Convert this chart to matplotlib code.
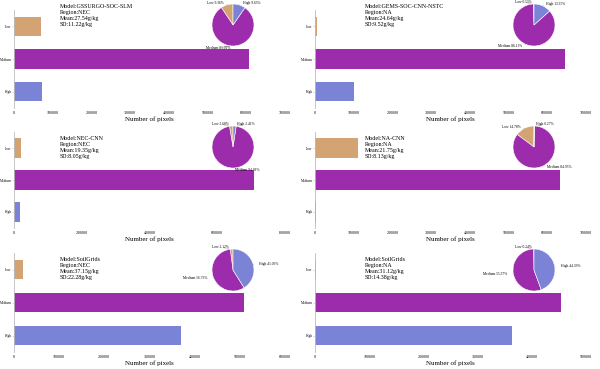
import numpy as np
import matplotlib
matplotlib.use("Agg")
import matplotlib.pyplot as plt

# Data
categories = ["Low", "Medium", "High"]
models = ["GSSURGO-SOC-SLM", "GEMS-SOC-CNN-NSTC", "NEC-CNN", "NA-CNN", "SoilGrids", "SoilGrids"]
regions = ["NEC", "NA", "NEC", "NA", "NEC", "NA"]
means = ["27.54", "24.64", "19.35", "21.75", "37.15", "31.12"]
sds = ["11.22", "9.52", "8.05", "8.13", "22.28", "14.38"]
low_pixels = [70000, 4000, 20000, 110000, 19000, 2000]
medium_pixels = [606000, 645000, 708000, 632000, 510000, 454000]
high_pixels = [72000, 100000, 18000, 2000, 369000, 364000]
axis_max = [700000, 700000, 800000, 700000, 600000, 500000]
axis_step = [100000, 100000, 200000, 100000, 100000, 100000]

colors = ["#D4A373", "#9C2CAB", "#7B83D7"]
W, H = 600, 369

plt.rcParams["font.family"] = ["Liberation Serif", "DejaVu Serif"]
fig = plt.figure(figsize=(W / 100, H / 100), dpi=100)


def px_axes(x0, y0, x1, y1):
    # pixel box (top-left origin) -> figure axes
    return fig.add_axes([x0 / W, 1 - y1 / H, (x1 - x0) / W, (y1 - y0) / H])


cols = [(14, 285), (315, 586)]
rows = [(10, 108), (132, 228), (253, 352)]

for i in range(6):
    r, c = divmod(i, 2)
    x0, x1 = cols[c]
    y0, y1 = rows[r]
    ax = px_axes(x0, y0, x1, y1)
    vals = [low_pixels[i], medium_pixels[i], high_pixels[i]]
    ax.barh(range(3), vals, height=0.6, color=colors)
    ax.set_ylim(2.5, -0.5)
    ax.set_xlim(0, axis_max[i])
    ax.set_xticks(np.arange(0, axis_max[i] + 1, axis_step[i]))
    ax.set_yticks(range(3))
    ax.set_yticklabels(categories)
    ax.tick_params(axis="x", labelsize=3, length=0, pad=2)
    ax.tick_params(axis="y", labelsize=2.5, length=1.2, width=0.4, color="#bbbbbb", pad=0.5)
    for s in ["top", "right", "bottom"]:
        ax.spines[s].set_visible(False)
    ax.spines["left"].set_color("#bbbbbb")
    ax.spines["left"].set_linewidth(0.6)
    ax.set_xlabel("Number of pixels", fontsize=5, labelpad=1)
    ax.patch.set_alpha(0)

    # info text
    tx = 60 if c == 0 else 365
    ty = y0 - 6 if r == 0 else y0 + 4
    fig.text(tx / W, 1 - ty / H,
             "Model:%s\nRegion:%s\nMean:%sg/kg\nSD:%sg/kg" % (models[i], regions[i], means[i], sds[i]),
             fontsize=4.3, va="top", ha="left", linespacing=1.25)

    # pie inset
    cx = 233 if c == 0 else 534
    cy = [25, 147, 270][r]
    rad = 21
    pax = px_axes(cx - rad, cy - rad, cx + rad, cy + rad)
    wedges, _ = pax.pie(vals, colors=colors, startangle=90, counterclock=True, radius=1,
                        wedgeprops=dict(edgecolor="white", linewidth=0.4))
    pax.set_xlim(-1, 1)
    pax.set_ylim(-1, 1)
    total = float(sum(vals))
    for w, name, v in zip(wedges, categories, vals):
        ang = np.deg2rad((w.theta1 + w.theta2) / 2)
        ex, ey = np.cos(ang), np.sin(ang)
        lx, ly = 1.2 * ex, 1.08 * ey
        ha = "left" if ex >= 0 else "right"
        pax.annotate("%s %.2f%%" % (name, 100 * v / total), xy=(ex, ey),
                     xytext=(lx + (0.1 if ex >= 0 else -0.1), ly),
                     fontsize=2.6, ha=ha, va="center", annotation_clip=False,
                     arrowprops=dict(arrowstyle="-", color="#999999", lw=0.3))

fig.savefig("out.png", dpi=100)
